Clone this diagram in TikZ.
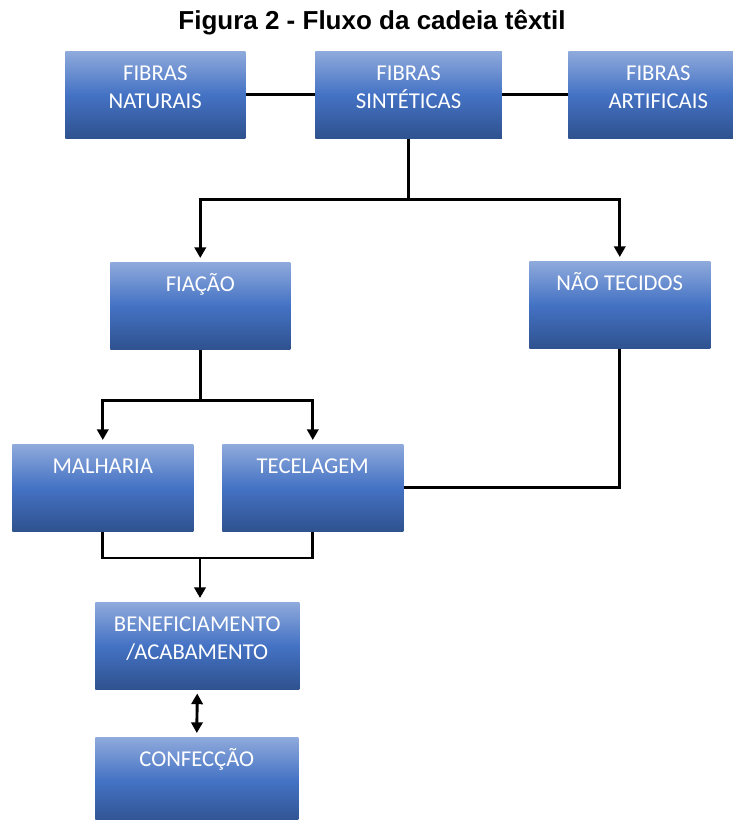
\documentclass[tikz,border=0pt]{standalone}
\usepackage{fontspec}
\setmainfont{Carlito}
\newfontfamily\titlefont{Liberation Sans}
\usetikzlibrary{arrows.meta}
\definecolor{boxtop}{RGB}{143,170,220}
\definecolor{boxmid}{RGB}{68,114,196}
\definecolor{boxbot}{RGB}{47,82,143}
\tikzset{
  stage/.style={rectangle, anchor=north west, inner sep=0pt, top color=boxtop, bottom color=boxbot, middle color=boxmid,
    minimum height=65.25pt, text height=22pt, text depth=43.25pt, align=center, text=white,
    font=\fontsize{17}{21}\selectfont},
  twoline/.style={text height=43pt, text depth=22.25pt},
  flow/.style={line width=2.2pt},
  arr/.style={flow, -{Triangle[length=8pt,width=8.5pt]}, shorten >=3pt},
  twoway/.style={flow, {Triangle[length=8pt,width=8.5pt]}-{Triangle[length=8pt,width=8.5pt]}, shorten >=3pt, shorten <=3pt},
}
\begin{document}
\begin{tikzpicture}[x=0.75pt,y=-0.75pt]
                \useasboundingbox (0,0) rectangle (732,820);
                \node[anchor=base, font=\titlefont\bfseries\fontsize{19.5}{22}\selectfont] (title) at (372,30) {Figura 2 - Fluxo da cadeia têxtil};
                \node[stage, twoline, minimum width=135pt] (naturais) at (65,51) {FIBRAS\\NATURAIS};
                \node[stage, twoline, minimum width=140pt] (sinteticas) at (315,51) {FIBRAS\\SINTÉTICAS};
                \node[stage, twoline, minimum width=135pt] (artificais) at (568,51) {FIBRAS\\ARTIFICAIS};
                \node[stage, minimum width=135pt] (fiacao) at (110,262) {FIAÇÃO};
                \node[stage, minimum width=135.75pt] (naotecidos) at (529,261) {NÃO TECIDOS};
                \node[stage, minimum width=135.75pt] (malharia) at (12,444) {MALHARIA};
                \node[stage, minimum width=135.75pt] (tecelagem) at (222,444) {TECELAGEM};
                \node[stage, twoline, minimum width=153pt] (beneficiamento) at (95,602) {BENEFICIAMENTO\\/ACABAMENTO};
                \node[stage, minimum width=152.25pt] (confeccao) at (95,737) {CONFECÇÃO};
                \path (sinteticas.south) ++(0,61) coordinate (split1);
                \path (fiacao.south) ++(0,51) coordinate (split2);
                \coordinate (join) at (200,558);
                \draw[flow] (naturais) -- (sinteticas);
                \draw[flow] (sinteticas) -- (artificais);
                \draw[flow] (sinteticas.south) -- (split1);
                \draw[arr] (split1) -| (fiacao.north);
                \draw[arr] (split1) -| (naotecidos.north);
                \draw[flow] (fiacao.south) -- (split2);
                \draw[arr] (split2) -| (malharia.north);
                \draw[arr] (split2) -| (tecelagem.north);
                \draw[flow] (naotecidos.south) |- (tecelagem.east);
                \draw[flow] (malharia.south) |- (join) -| (tecelagem.south);
                \draw[arr] (join) -- (join |- beneficiamento.north);
                \draw[twoway] (beneficiamento.south) -- (confeccao.north);
            \end{tikzpicture}
\end{document}
